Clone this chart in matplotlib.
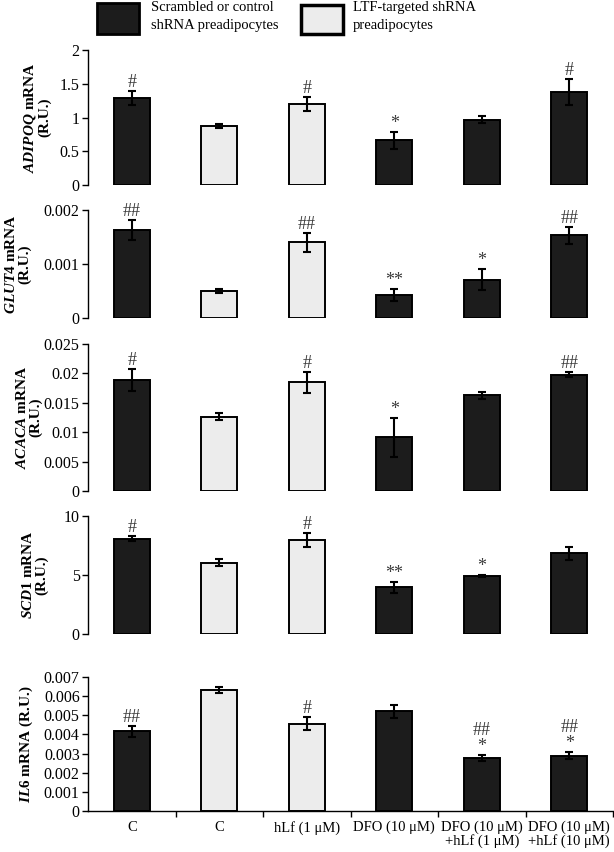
import numpy as np
import matplotlib
matplotlib.use("Agg")
import matplotlib.pyplot as plt
from matplotlib.patches import Rectangle
from matplotlib.ticker import FuncFormatter
from matplotlib.transforms import blended_transform_factory

plt.rcParams['font.family'] = ['Liberation Serif', 'DejaVu Serif']
plt.rcParams['mathtext.fontset'] = 'custom'
plt.rcParams['mathtext.it'] = 'Liberation Serif:bold:italic'
plt.rcParams['mathtext.rm'] = 'Liberation Serif:bold'

# groups on the x axis
groups = ['C', 'C', 'hLf (1 μM)', 'DFO (10 μM)',
          'DFO (10 μM)\n+hLf (1 μM)', 'DFO (10 μM)\n+hLf (10 μM)']
# True = LTF-targeted shRNA (light bar), False = scrambled/control (dark bar)
ltf_group = [False, True, True, False, False, False]

adipoq = [1.29, 0.88, 1.20, 0.66, 0.97, 1.38]
adipoq_err = [0.10, 0.03, 0.10, 0.13, 0.05, 0.19]
adipoq_sig = ['#', '', '#', '*', '', '#']

glut4 = [0.00163, 0.00050, 0.00140, 0.00042, 0.00071, 0.00153]
glut4_err = [0.00019, 0.00003, 0.00017, 0.00011, 0.00019, 0.00016]
glut4_sig = ['##', '', '##', '**', '*', '##']

acaca = [0.0189, 0.0126, 0.0185, 0.0091, 0.0163, 0.0198]
acaca_err = [0.0019, 0.0006, 0.0018, 0.0033, 0.0006, 0.0004]
acaca_sig = ['#', '', '#', '*', '', '##']

scd1 = [8.09, 6.04, 8.00, 3.96, 4.94, 6.83]
scd1_err = [0.20, 0.28, 0.60, 0.45, 0.10, 0.56]
scd1_sig = ['#', '', '#', '**', '*', '']

il6 = [0.00416, 0.00634, 0.00456, 0.00521, 0.00277, 0.00289]
il6_err = [0.00028, 0.00016, 0.00035, 0.00033, 0.00014, 0.00019]
il6_sig = ['##', '', '#', '', '##\n*', '##\n*']

dark = '#1c1c1c'
light = '#ececec'

W, H = 614, 852
fig = plt.figure(figsize=(W / 100, H / 100), dpi=100)


def px_axes(top, bottom, left=88, right=613):
    # axes rectangle from pixel positions of the reference
    return fig.add_axes([left / W, 1 - bottom / H, (right - left) / W, (bottom - top) / H])


def bar_panel(ax, vals, errs, sigs, ymax, yticks, label, lab_px, last=False):
    x = np.arange(len(vals))
    colors = [light if f else dark for f in ltf_group]
    ax.bar(x, vals, width=0.41, color=colors, edgecolor='black', linewidth=1.4, zorder=2)
    ax.errorbar(x, vals, yerr=errs, fmt='none', ecolor='black', elinewidth=1.5,
                capsize=3, capthick=1.5, zorder=3)
    for xi, v, e, s in zip(x, vals, errs, sigs):
        if s:
            ax.annotate(s, (xi, v + e), xytext=(0, 0), textcoords='offset points',
                        ha='center', va='bottom', fontsize=13, color='#3a3a3a',
                        linespacing=0.95)
    ax.set_xlim(-0.5, 5.5)
    ax.set_ylim(0, ymax)
    ax.set_yticks(yticks)
    ax.yaxis.set_major_formatter(FuncFormatter(lambda v, p: '%g' % v))
    ax.tick_params(axis='y', direction='out', length=4, width=1, labelsize=11.5, pad=2)
    for s in ['top', 'right']:
        ax.spines[s].set_visible(False)
    ax.spines['left'].set_linewidth(1)
    if last:
        ax.set_xticks(x)
        ax.set_xticklabels(groups, fontsize=10.5, linespacing=1.0)
        ax.set_xticks(np.arange(0.5, 6, 1), minor=True)
        ax.tick_params(axis='x', which='major', length=0, pad=7)
        ax.tick_params(axis='x', which='minor', direction='out', length=4, width=1)
        ax.spines['bottom'].set_linewidth(1)
    else:
        ax.spines['bottom'].set_visible(False)
        ax.set_xticks([])
    # label centre given in pixels from the left edge of the figure
    tr = blended_transform_factory(fig.transFigure, ax.transAxes)
    ax.text(lab_px / W, 0.5, label, transform=tr, rotation=90, ha='center', va='center',
            fontsize=11, fontweight='bold', multialignment='center', linespacing=1.0)


ax1 = px_axes(50, 185)
bar_panel(ax1, adipoq, adipoq_err, adipoq_sig, 2, [0, 0.5, 1, 1.5, 2],
          r'$\mathit{ADIPOQ}$ mRNA' + '\n(R.U.)', 37)
ax2 = px_axes(210, 318)
bar_panel(ax2, glut4, glut4_err, glut4_sig, 0.002, [0, 0.001, 0.002],
          r'$\mathit{GLUT4}$ mRNA' + '\n(R.U.)', 18)
ax3 = px_axes(344, 491)
bar_panel(ax3, acaca, acaca_err, acaca_sig, 0.025,
          [0, 0.005, 0.01, 0.015, 0.02, 0.025], r'$\mathit{ACACA}$ mRNA' + '\n(R.U.)', 29)
ax4 = px_axes(516, 634)
bar_panel(ax4, scd1, scd1_err, scd1_sig, 10, [0, 5, 10],
          r'$\mathit{SCD1}$ mRNA' + '\n(R.U.)', 35)
ax5 = px_axes(677, 811)
bar_panel(ax5, il6, il6_err, il6_sig, 0.007, np.arange(0, 0.0071, 0.001),
          r'$\mathit{IL6}$ mRNA (R.U.)', 26, last=True)

# legend drawn by hand at the top
fig.patches.append(Rectangle((97 / W, 1 - 34 / H), 42 / W, 31 / H, transform=fig.transFigure,
                             facecolor=dark, edgecolor='black', linewidth=2))
fig.text(151 / W, 1 - 1 / H, 'Scrambled or control\nshRNA preadipocytes', ha='left', va='top',
         fontsize=10.5, linespacing=1.45)
fig.patches.append(Rectangle((301 / W, 1 - 34 / H), 42 / W, 29 / H, transform=fig.transFigure,
                             facecolor=light, edgecolor='black', linewidth=2.5))
fig.text(353 / W, 1 - 1 / H, 'LTF-targeted shRNA\npreadipocytes', ha='left', va='top',
         fontsize=10.5, linespacing=1.45)

plt.savefig('out.png', dpi=100)
